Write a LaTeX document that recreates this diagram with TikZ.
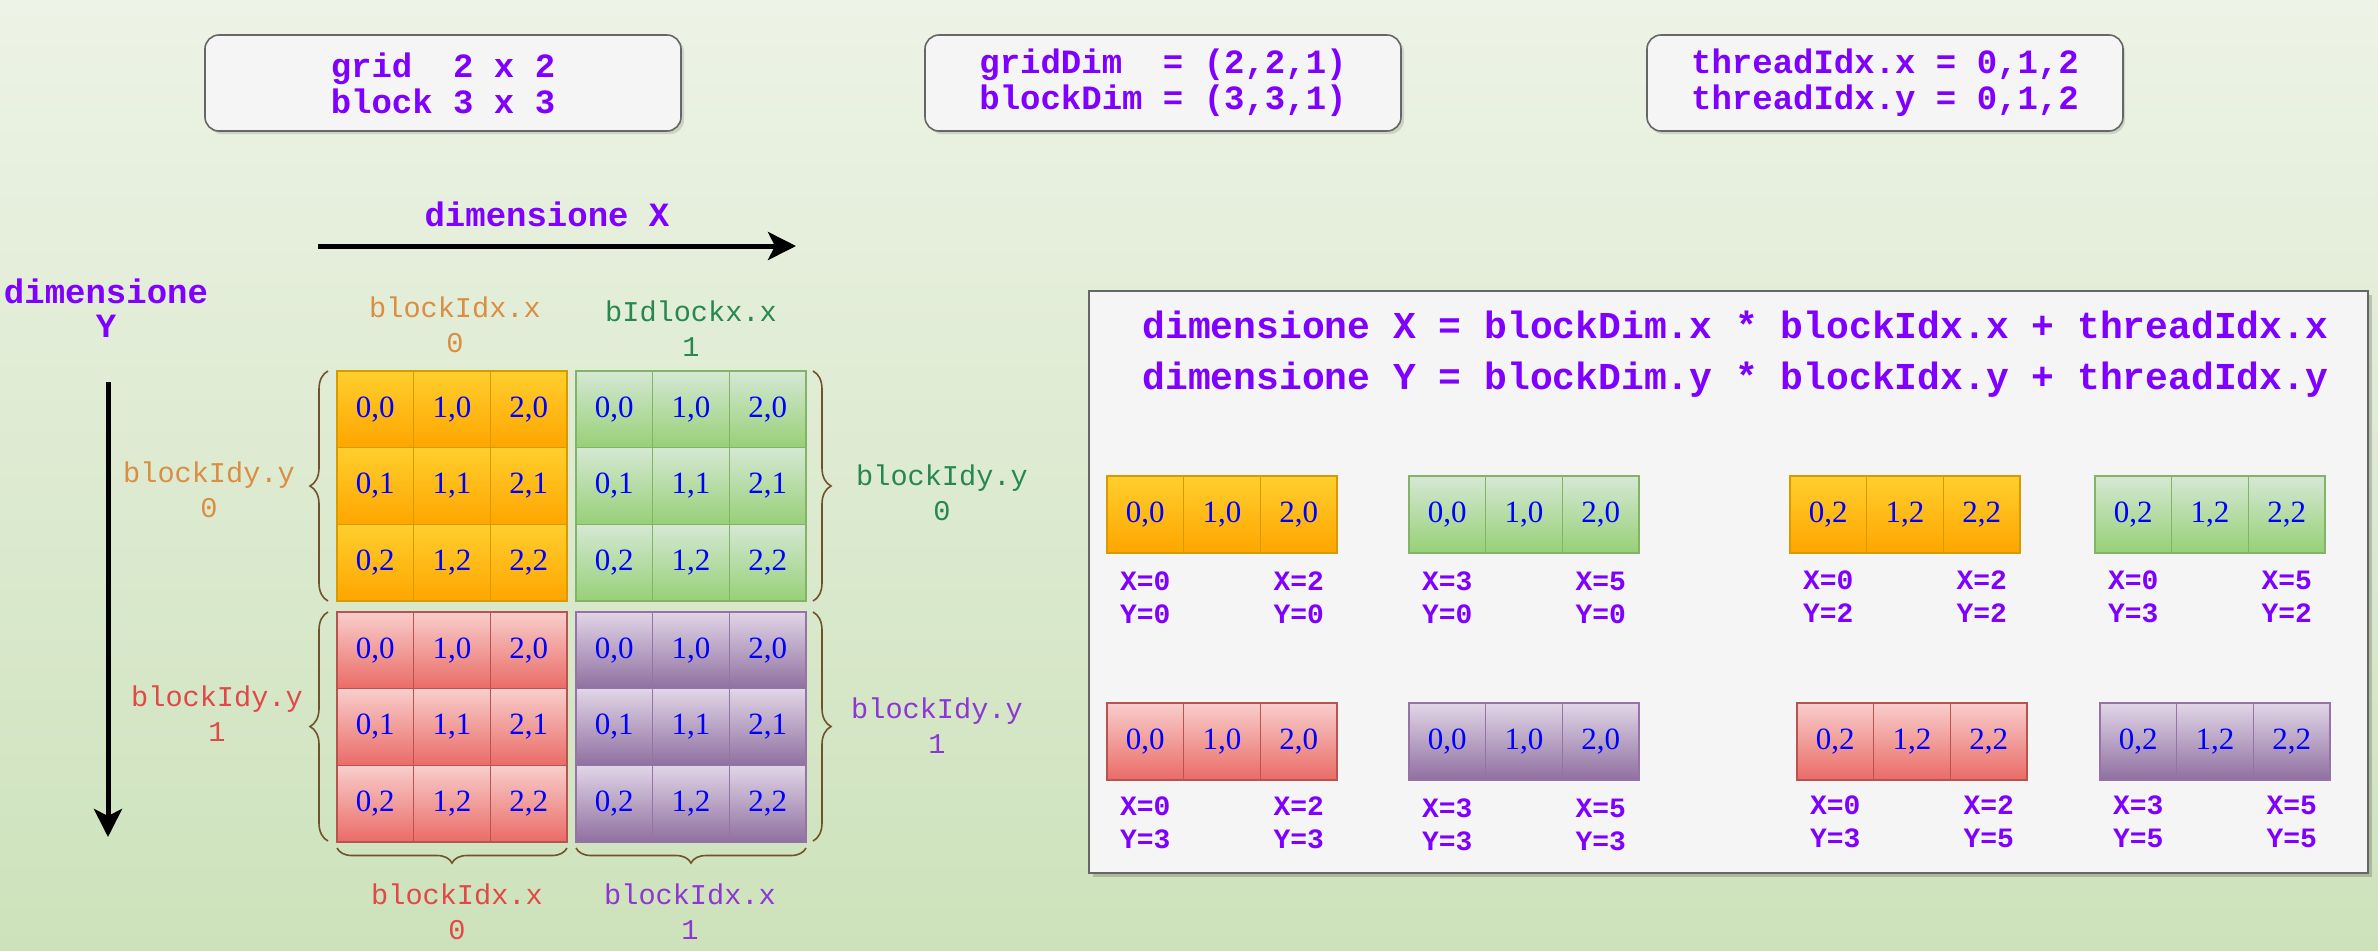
\documentclass[tikz,border=0pt]{standalone}
\usepackage{fontspec}
\setmainfont{Liberation Serif}
\newfontfamily\cour{Liberation Mono}
\usetikzlibrary{decorations.pathreplacing,arrows.meta}

\definecolor{bgtop}{RGB}{237,243,230}
\definecolor{bgbot}{RGB}{205,226,187}
\definecolor{vio}{RGB}{127,0,255}
\definecolor{oTop}{RGB}{255,207,45}
\definecolor{oBot}{RGB}{255,165,0}
\definecolor{oLine}{RGB}{215,155,0}
\definecolor{gTop}{RGB}{213,232,212}
\definecolor{gBot}{RGB}{151,208,119}
\definecolor{gLine}{RGB}{130,179,102}
\definecolor{rTop}{RGB}{248,206,204}
\definecolor{rBot}{RGB}{234,107,102}
\definecolor{rLine}{RGB}{184,84,80}
\definecolor{pTop}{RGB}{225,213,231}
\definecolor{pBot}{RGB}{143,112,160}
\definecolor{pLine}{RGB}{150,115,166}
\definecolor{lblO}{RGB}{218,142,66}
\definecolor{lblG}{RGB}{38,136,78}
\definecolor{lblR}{RGB}{225,72,72}
\definecolor{lblP}{RGB}{140,55,210}
\definecolor{boxfill}{RGB}{245,245,245}
\definecolor{boxline}{RGB}{102,102,102}
\definecolor{bracecol}{RGB}{112,82,45}

\newcommand\mkblock[4]{%
  \foreach \i in {0,1,2}{%
    \foreach \j in {0,1,2}{%
      \node[#1] (#2\i\j) at ({#3+38.333+76.667*\i},{#4+38.333+76.667*\j}) {\i,\j};
    }%
  }%
}
\newcommand\mkstrip[5]{%
  \foreach \i in {0,1,2}{%
    \node[#1] (#2\i) at ({#3+38.333+76.667*\i},{#4+38.5}) {\i,#5};
  }%
}
\newcommand\mklabels[5]{%
  \node[xylbl] (#1L) at ({#2+38.3},#3) {#4};
  \node[xylbl] (#1R) at ({#2+191.7},#3) {#5};
}

\begin{document}
\begin{tikzpicture}[x=0.5pt,y=-0.5pt,
  cell/.style={draw, line width=0.7pt, minimum width=38.33pt, minimum height=38.33pt,
    inner sep=0pt, text=blue, font=\fontsize{15.5}{16}\selectfont},
  ocell/.style={cell, top color=oTop, bottom color=oBot, draw=oLine},
  gcell/.style={cell, top color=gTop, bottom color=gBot, draw=gLine},
  rcell/.style={cell, top color=rTop, bottom color=rBot, draw=rLine},
  pcell/.style={cell, top color=pTop, bottom color=pBot, draw=pLine},
  topbox/.style={draw=boxline, fill=boxfill, rounded corners=7pt, line width=0.8pt,
    minimum width=238pt, minimum height=48pt, text=vio, align=center,
    font=\cour\bfseries\fontsize{17}{18}\selectfont},
  vtext/.style={text=vio, align=center, inner sep=0pt,
    font=\cour\bfseries\fontsize{17}{17}\selectfont},
  formula/.style={text=vio, anchor=west, inner sep=0pt,
    font=\cour\bfseries\fontsize{19}{21}\selectfont},
  lbl/.style={align=center, inner sep=0pt, font=\cour\fontsize{14.3}{17.5}\selectfont},
  xylbl/.style={text=vio, align=center, inner sep=0pt,
    font=\cour\bfseries\fontsize{14}{16.5}\selectfont},
  bracev/.style={draw=bracecol, line width=0.8pt, decorate,
    decoration={brace, amplitude=9pt}},
  braceh/.style={draw=bracecol, line width=0.8pt, decorate,
    decoration={brace, amplitude=7.5pt}},
  bigarrow/.style={line width=2.5pt, -{Stealth[length=14pt, width=14pt, inset=3.5pt]}}
]
\useasboundingbox (0,0) rectangle (2378,950);
\shade[top color=bgtop, bottom color=bgbot] (0,0) rectangle (2378,950);

% top boxes
\fill[black, opacity=0.12, rounded corners=7pt] (208,38) rectangle (684,134);
\fill[black, opacity=0.12, rounded corners=7pt] (928,38) rectangle (1404,134);
\fill[black, opacity=0.12, rounded corners=7pt] (1649,38) rectangle (2125,134);
\node[topbox] (box1) at (443,83) {grid~~2 x 2\\block 3 x 3};
\node[topbox] (box2) at (1163,83) {gridDim~~= (2,2,1)\\blockDim = (3,3,1)};
\node[topbox] (box3) at (1885,83) {threadIdx.x = 0,1,2\\threadIdx.y = 0,1,2};

% axes
\node[vtext] (dimX) at (547,214) {dimensione X};
\coordinate (xa) at (318,246);
\coordinate (xb) at (796,246);
\draw[bigarrow] (xa) -- (xb);
\node[vtext] (dimY) at (106,308) {dimensione\\Y};
\coordinate (ya) at (108,382);
\coordinate (yb) at (108,837);
\draw[bigarrow] (ya) -- (yb);

% grid blocks
\mkblock{ocell}{o}{337}{371}
\mkblock{gcell}{g}{576}{371}
\mkblock{rcell}{r}{337}{612}
\mkblock{pcell}{p}{576}{612}

% braces
\coordinate (bl1a) at (328,601); \coordinate (bl1b) at (328,371);
\coordinate (bl2a) at (328,841); \coordinate (bl2b) at (328,612);
\coordinate (br1a) at (813,371); \coordinate (br1b) at (813,601);
\coordinate (br2a) at (813,612); \coordinate (br2b) at (813,841);
\coordinate (bb1a) at (567,848); \coordinate (bb1b) at (337,848);
\coordinate (bb2a) at (806,848); \coordinate (bb2b) at (576,848);
\draw[bracev] (bl1a) -- (bl1b);
\draw[bracev] (bl2a) -- (bl2b);
\draw[bracev] (br1a) -- (br1b);
\draw[bracev] (br2a) -- (br2b);
\draw[braceh] (bb1a) -- (bb1b);
\draw[braceh] (bb2a) -- (bb2b);

% labels around grid
\node[lbl, text=lblO] (tx0) at (455,325) {blockIdx.x\\0};
\node[lbl, text=lblG] (tx1) at (691,329) {bIdlockx.x\\1};
\node[lbl, text=lblO] (ly0) at (209,490) {blockIdy.y\\0};
\node[lbl, text=lblR] (ly1) at (217,714) {blockIdy.y\\1};
\node[lbl, text=lblG] (ry0) at (942,493) {blockIdy.y\\0};
\node[lbl, text=lblP] (ry1) at (937,726) {blockIdy.y\\1};
\node[lbl, text=lblR] (bx0) at (457,912) {blockIdx.x\\0};
\node[lbl, text=lblP] (bx1) at (690,912) {blockIdx.x\\1};

% right panel
\fill[black, opacity=0.18] (1093,295) rectangle (2372,877);
\node[draw=boxline, fill=boxfill, line width=0.8pt, minimum width=639.5pt,
  minimum height=291pt, inner sep=0pt] (panel) at (1728.5,582) {};
\node[formula] (f1) at (1142,325) {dimensione X = blockDim.x * blockIdx.x + threadIdx.x};
\node[formula] (f2) at (1142,380) {dimensione Y = blockDim.y * blockIdx.y + threadIdx.y};

\mkstrip{ocell}{sa}{1107}{476}{0}
\mkstrip{gcell}{sb}{1409}{476}{0}
\mkstrip{ocell}{sc}{1790}{476}{2}
\mkstrip{gcell}{sd}{2095}{476}{2}
\mkstrip{rcell}{se}{1107}{703}{0}
\mkstrip{pcell}{sf}{1409}{703}{0}
\mkstrip{rcell}{sg}{1797}{703}{2}
\mkstrip{pcell}{sh}{2100}{703}{2}

\mklabels{la}{1107}{598}{X=0\\Y=0}{X=2\\Y=0}
\mklabels{lb}{1409}{598}{X=3\\Y=0}{X=5\\Y=0}
\mklabels{lc}{1790}{597}{X=0\\Y=2}{X=2\\Y=2}
\mklabels{ld}{2095}{597}{X=0\\Y=3}{X=5\\Y=2}
\mklabels{le}{1107}{823}{X=0\\Y=3}{X=2\\Y=3}
\mklabels{lf}{1409}{825}{X=3\\Y=3}{X=5\\Y=3}
\mklabels{lg}{1797}{822}{X=0\\Y=3}{X=2\\Y=5}
\mklabels{lh}{2100}{822}{X=3\\Y=5}{X=5\\Y=5}
\end{tikzpicture}
\end{document}
